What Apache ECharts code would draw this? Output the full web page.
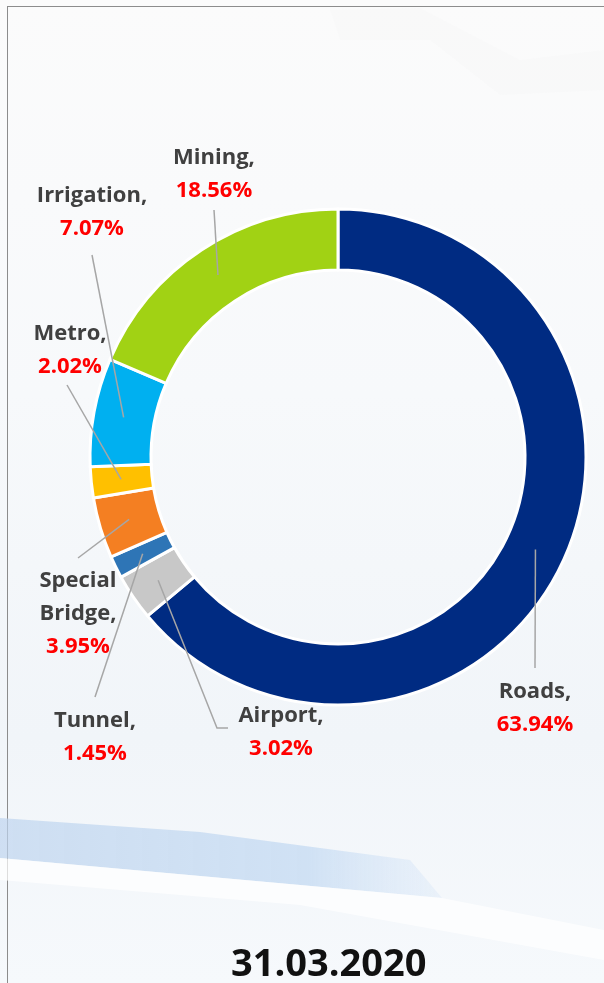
<!DOCTYPE html>
<html>
<head>
<meta charset="utf-8">
<script src="https://cdn.jsdelivr.net/npm/echarts@6/dist/echarts.min.js"></script>
<style>
  html, body { margin: 0; padding: 0; }
  body {
    width: 604px; height: 983px; overflow: hidden;
    background: linear-gradient(180deg, #fbfbfb 0%, #f7f9fb 40%, #f1f5f9 75%, #f6f9fc 100%);
  }
  #frame {
    position: absolute; left: 7px; top: 6px; right: 0; bottom: 0;
    border-left: 1px solid #8c8c8c; border-top: 1px solid #8c8c8c;
  }
  #main { position: absolute; left: 0; top: 0; width: 604px; height: 983px; }
</style>
</head>
<body>
<div id="frame"></div>
<div id="main"></div>
<script>
// clockwise from the top
const sectors = ['Roads', 'Airport', 'Tunnel', 'Special Bridge', 'Metro', 'Irrigation', 'Mining'];
const shares = [63.94, 3.02, 1.45, 3.95, 2.02, 7.07, 18.56];
const colors = ['#002b82', '#c8c8c8', '#2e75b6', '#f47f22', '#ffc000', '#00b0f0', '#a1d214'];
const dateLabel = '31.03.2020';

// where each label sits (centre of text block) and where its leader ends
const labelSpots = [
  { x: 535, y: 708, end: [[535, 668]] },
  { x: 281, y: 732, end: [[217, 728], [228, 728]] },
  { x: 95, y: 737, end: [[95, 697]] },
  { x: 78, y: 614, end: [[78, 558]] },
  { x: 70, y: 350, end: [[67, 385]] },
  { x: 92, y: 212, end: [[92, 255]] },
  { x: 214, y: 174, end: [[214, 210]] }
];

const cx = 338, cy = 457, rIn = 187, rOut = 248, rLine = 218;
const fontFam = '"Open Sans", Lato, sans-serif';

const chart = echarts.init(document.getElementById('main'));

const pieData = sectors.map((name, i) => ({ name: name, value: shares[i] }));
const total = shares.reduce((a, b) => a + b, 0);

function midPoint(i) {
  let acc = 0;
  for (let k = 0; k < i; k++) acc += shares[k];
  const a = (acc + shares[i] / 2) / total * Math.PI * 2;
  return [cx + rLine * Math.sin(a), cy - rLine * Math.cos(a)];
}

const option = {
  animation: false,
  graphic: [
    {
      type: 'polygon', silent: true, z: -10,
      shape: { points: [[0, 818], [200, 832], [410, 860], [442, 898], [300, 885], [0, 858]] },
      style: {
        fill: new echarts.graphic.LinearGradient(0, 0, 1, 0, [
          { offset: 0, color: 'rgba(190,212,238,0.7)' },
          { offset: 0.7, color: 'rgba(196,218,242,0.75)' },
          { offset: 1, color: 'rgba(215,230,248,0.35)' }
        ])
      }
    },
    {
      type: 'polygon', silent: true, z: -10,
      shape: { points: [[0, 858], [300, 885], [442, 898], [604, 930], [604, 960], [300, 905], [0, 880]] },
      style: { fill: 'rgba(255,255,255,0.7)' }
    },
    {
      type: 'polygon', silent: true, z: -10,
      shape: { points: [[330, 10], [420, 8], [520, 60], [604, 50], [604, 90], [500, 95], [430, 40], [340, 40]] },
      style: { fill: 'rgba(225,225,225,0.06)' }
    },
    {
      type: 'text', left: 231, top: 946,
      style: {
        text: dateLabel, fill: '#111111',
        font: 'bold 38px ' + fontFam
      }
    }
  ],
  series: [
    {
      type: 'pie',
      z: 2,
      center: [cx, cy],
      radius: [rIn, rOut],
      startAngle: 90,
      clockwise: true,
      silent: true,
      label: { show: false },
      labelLine: { show: false },
      itemStyle: {
        color: p => colors[p.dataIndex],
        borderColor: '#ffffff',
        borderWidth: 3
      },
      data: pieData
    },
    {
      type: 'pie',
      z: 5,
      center: [cx, cy],
      radius: [0, rLine],
      startAngle: 90,
      clockwise: true,
      silent: true,
      avoidLabelOverlap: false,
      itemStyle: { color: 'rgba(0,0,0,0)' },
      label: {
        show: true,
        position: 'outside',
        formatter: p => '{n|' + p.name.split(' ').join('}\n{n|') + ',}\n{v|' + p.value.toFixed(2) + '%}',
        rich: {
          n: { fontFamily: fontFam, fontWeight: 'bold', fontSize: 22, color: '#404040', lineHeight: 33, align: 'center' },
          v: { fontFamily: fontFam, fontWeight: 'bold', fontSize: 22, color: '#ff0000', lineHeight: 33, align: 'center' }
        }
      },
      labelLine: {
        show: true,
        lineStyle: { color: '#a6a6a6', width: 1.5 }
      },
      labelLayout: function (params) {
        const i = params.dataIndex;
        const spot = labelSpots[i];
        const pts = [midPoint(i)].concat(spot.end);
        if (pts.length < 3) pts.push(spot.end[spot.end.length - 1]);
        return {
          x: spot.x,
          y: spot.y,
          align: 'center',
          verticalAlign: 'middle',
          labelLinePoints: pts
        };
      },
      data: pieData
    }
  ]
};

chart.setOption(option);
</script>
</body>
</html>
